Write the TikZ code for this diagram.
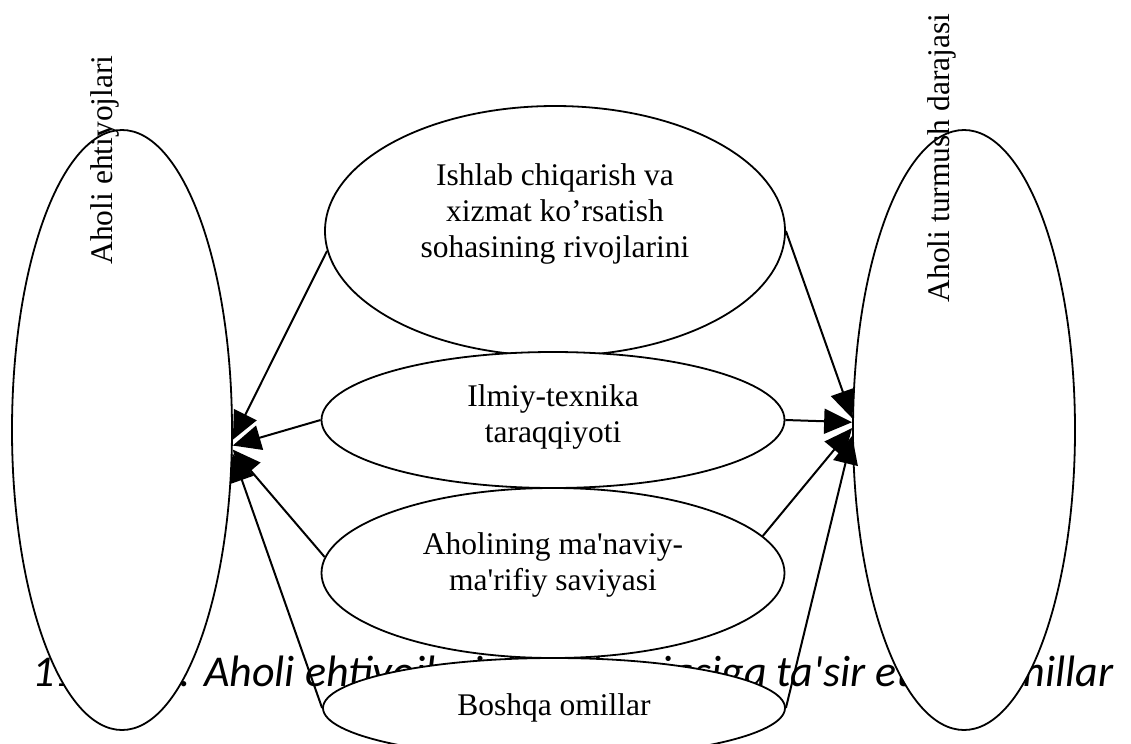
\documentclass[tikz,border=0pt]{standalone}
\usepackage{fontspec}
\setmainfont{Liberation Serif}
\newfontfamily\captionfont{Carlito}
\usetikzlibrary{arrows.meta,shapes}

\begin{document}
\begin{tikzpicture}[
  oval/.style={draw,ellipse,fill=white,line width=1.8bp,inner sep=0pt,align=center},
  pointer/.style={-{Triangle[length=28bp,width=25bp]},line width=2bp},
  font=\fontsize{31.5bp}{36bp}\selectfont]

\useasboundingbox (0bp,0bp) rectangle (1131bp,-744bp);

\node (caption) at (32bp,-686bp)[anchor=base west,inner sep=0pt,font={\captionfont\itshape\fontsize{44bp}{50bp}\selectfont}] {11-rasm. Aholi ehtiyojlarini va darajasiga ta\textquotesingle sir etgan omillar};

\node (ishlab) at (555bp,-231bp)[oval,minimum width=460bp,minimum height=250bp,text depth=40bp] {Ishlab chiqarish va\\xizmat ko’rsatish\\sohasining rivojlarini};
\node (ilmiy) at (553bp,-420bp)[oval,minimum width=463bp,minimum height=136bp,text depth=12bp] {Ilmiy-texnika\\taraqqiyoti};
\node (manaviy) at (553bp,-573bp)[oval,minimum width=463bp,minimum height=170bp,text depth=22bp] {Aholining ma\textquotesingle naviy-\\ma\textquotesingle rifiy saviyasi};
\node (boshqa) at (554bp,-708bp)[oval,minimum width=462bp,minimum height=100bp] {Boshqa omillar};
\node (ehtiyoj) at (122bp,-430bp)[oval,minimum width=220bp,minimum height=600bp] {};
\node (turmush) at (964bp,-430bp)[oval,minimum width=222bp,minimum height=600bp] {};
\node (ehtiyojlabel) at (105bp,-160bp)[rotate=90] {Aholi ehtiyojlari};
\node (turmushlabel) at (942bp,-158bp)[rotate=90] {Aholi turmush darajasi};

\draw [pointer] (ishlab.185) to (ehtiyoj.-5);
\draw [pointer] (ilmiy.west) to (ehtiyoj.-8);
\draw [pointer] (manaviy.176) to (ehtiyoj.-10);
\draw [pointer] (boshqa.west) to (ehtiyoj.-12);
\draw [pointer] (ishlab.east) to (turmush.174);
\draw [pointer] (ilmiy.east) to (turmush.176);
\draw [pointer] (manaviy.10.5) to (turmush.179);
\draw [pointer] (boshqa.east) to (turmush.183);
\end{tikzpicture}
\end{document}
